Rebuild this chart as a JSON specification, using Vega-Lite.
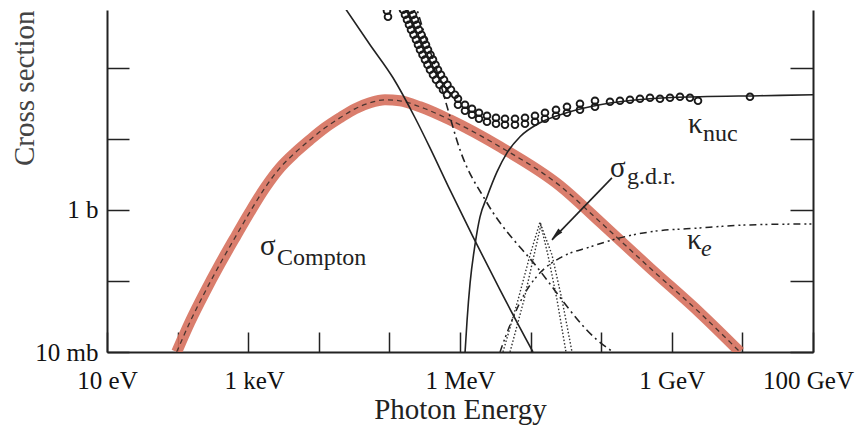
{
  "$schema": "https://vega.github.io/schema/vega-lite/v6.json",
  "width": 706,
  "height": 342,
  "autosize": {"type": "none"},
  "padding": {"left": 107, "top": 10, "right": 42, "bottom": 76},
  "background": "white",
  "config": {"view": {"stroke": null}, "font": "Liberation Serif"},
  "datasets": {
    "compton": [
      {"E": 97, "S": 0.01}, {"E": 149.8, "S": 0.02646}, {"E": 244.4, "S": 0.07002}, {"E": 399, "S": 0.1736},
      {"E": 671.7, "S": 0.4303}, {"E": 1060, "S": 0.937}, {"E": 1729, "S": 2.041}, {"E": 2820, "S": 3.904},
      {"E": 4601, "S": 6.352}, {"E": 7505, "S": 9.681}, {"E": 12240, "S": 14.29}, {"E": 19970, "S": 19.76},
      {"E": 32560, "S": 26.45}, {"E": 53110, "S": 32.14}, {"E": 86630, "S": 35.43}, {"E": 141300, "S": 34.29},
      {"E": 271300, "S": 28.22}, {"E": 721000, "S": 18.5}, {"E": 3.69e6, "S": 7.71},
      {"E": 2.61e7, "S": 2.18}, {"E": 9.62e7, "S": 0.678}, {"E": 4.91e8, "S": 0.152}, {"E": 2.51e9, "S": 0.0354},
      {"E": 9.25e9, "S": 0.01}
    ],
    "photo": [
      {"E": 18700, "S": 968}, {"E": 53100, "S": 211}, {"E": 112500, "S": 72.3}, {"E": 230700, "S": 19.8},
      {"E": 376000, "S": 7.46}, {"E": 721000, "S": 1.91}, {"E": 1.53e6, "S": 0.417}, {"E": 3.69e6, "S": 0.0746},
      {"E": 1.08e7, "S": 0.01}
    ],
    "rayleigh": [
      {"E": 223100, "S": 907}, {"E": 352100, "S": 210.8}, {"E": 487900, "S": 79.7}, {"E": 633400, "S": 32.1},
      {"E": 1.0e6, "S": 7.0}, {"E": 2.41e6, "S": 1.26}, {"E": 1.23e7, "S": 0.157}, {"E": 8.73e7, "S": 0.0148},
      {"E": 1.47e8, "S": 0.01}
    ],
    "knuc": [
      {"E": 1.18e6, "S": 0.01}, {"E": 1.26e6, "S": 0.0282}, {"E": 1.39e6, "S": 0.0938}, {"E": 1.63e6, "S": 0.321},
      {"E": 1.92e6, "S": 0.796}, {"E": 2.41e6, "S": 1.52}, {"E": 3.34e6, "S": 3.43}, {"E": 4.63e6, "S": 6.35},
      {"E": 7.08e6, "S": 10.7}, {"E": 1.36e7, "S": 16.8}, {"E": 3.61e7, "S": 24.0}, {"E": 9.62e7, "S": 30.1},
      {"E": 4.91e8, "S": 36.6}, {"E": 2.51e9, "S": 39.1}, {"E": 1.77e10, "S": 40.4}, {"E": 1e11, "S": 41.7}
    ],
    "ke": [
      {"E": 3.69e6, "S": 0.01}, {"E": 5.11e6, "S": 0.024}, {"E": 8.34e6, "S": 0.0678}, {"E": 1.36e7, "S": 0.13},
      {"E": 2.61e7, "S": 0.211}, {"E": 6.93e7, "S": 0.301}, {"E": 1.85e8, "S": 0.404}, {"E": 4.91e8, "S": 0.49},
      {"E": 2.51e9, "S": 0.557}, {"E": 1.28e10, "S": 0.615}, {"E": 1e11, "S": 0.635}
    ],
    "gdr": [
      {"g": "a", "E": 4.06e6, "S": 0.01}, {"g": "a", "E": 6.63e6, "S": 0.0539}, {"g": "a", "E": 9.82e6, "S": 0.232},
      {"g": "a", "E": 1.36e7, "S": 0.678}, {"g": "a", "E": 1.76e7, "S": 0.232}, {"g": "a", "E": 2.37e7, "S": 0.0539},
      {"g": "a", "E": 3.17e7, "S": 0.01},
      {"g": "b", "E": 5.11e6, "S": 0.01}, {"g": "b", "E": 8.05e6, "S": 0.0539}, {"g": "b", "E": 1.12e7, "S": 0.232},
      {"g": "b", "E": 1.40e7, "S": 0.615}, {"g": "b", "E": 2.01e7, "S": 0.232}, {"g": "b", "E": 2.79e7, "S": 0.0539},
      {"g": "b", "E": 3.86e7, "S": 0.01}
    ],
    "total": [
      {"E": 9.245e4, "S": 635}, {"E": 9.552e4, "S": 522.6},
      {"E": 1.557e5, "S": 656}, {"E": 1.663e5, "S": 557.8}, {"E": 1.775e5, "S": 474}, {"E": 1.895e5, "S": 403.3},
      {"E": 2.023e5, "S": 343}, {"E": 2.195e5, "S": 291.6}, {"E": 2.381e5, "S": 248}, {"E": 2.541e5, "S": 210.8},
      {"E": 2.713e5, "S": 179}, {"E": 2.943e5, "S": 152.5}, {"E": 3.193e5, "S": 130}, {"E": 3.464e5, "S": 110.2},
      {"E": 3.758e5, "S": 93.7}, {"E": 4.144e5, "S": 79.7}, {"E": 4.571e5, "S": 67.8}, {"E": 5.123e5, "S": 57.6},
      {"E": 5.743e5, "S": 49.0}, {"E": 6.544e5, "S": 41.7},
      {"E": 2.023e5, "S": 656}, {"E": 2.159e5, "S": 557.8}, {"E": 2.304e5, "S": 474}, {"E": 2.459e5, "S": 403.3},
      {"E": 2.626e5, "S": 343}, {"E": 2.849e5, "S": 291.6}, {"E": 3.090e5, "S": 248}, {"E": 3.298e5, "S": 210.8},
      {"E": 3.521e5, "S": 179}, {"E": 3.820e5, "S": 152.5}, {"E": 4.144e5, "S": 130}, {"E": 4.497e5, "S": 110.2},
      {"E": 4.879e5, "S": 93.7}, {"E": 5.380e5, "S": 79.7}, {"E": 5.934e5, "S": 67.8}, {"E": 6.651e5, "S": 57.6},
      {"E": 7.453e5, "S": 49.0}, {"E": 8.496e5, "S": 41.7},
      {"E": 9.367e5, "S": 36.59}, {"E": 1.177e6, "S": 30.13}, {"E": 1.479e6, "S": 26.45}, {"E": 1.858e6, "S": 23.24},
      {"E": 2.412e6, "S": 21.08}, {"E": 3.234e6, "S": 19.76}, {"E": 4.338e6, "S": 19.13}, {"E": 6.011e6, "S": 19.13},
      {"E": 8.330e6, "S": 19.76}, {"E": 1.154e7, "S": 21.08}, {"E": 1.599e7, "S": 23.24}, {"E": 2.289e7, "S": 25.61},
      {"E": 3.276e7, "S": 28.22}, {"E": 5.007e7, "S": 31.12}, {"E": 8.166e7, "S": 34.29},
      {"E": 9.367e5, "S": 30.13}, {"E": 1.177e6, "S": 24.80}, {"E": 1.479e6, "S": 21.78}, {"E": 1.858e6, "S": 19.13},
      {"E": 2.412e6, "S": 17.36}, {"E": 3.234e6, "S": 16.27}, {"E": 4.338e6, "S": 15.75}, {"E": 6.011e6, "S": 15.75},
      {"E": 8.330e6, "S": 16.27}, {"E": 1.154e7, "S": 17.36}, {"E": 1.599e7, "S": 19.13}, {"E": 2.289e7, "S": 21.08},
      {"E": 3.276e7, "S": 23.24}, {"E": 5.007e7, "S": 25.61}, {"E": 8.166e7, "S": 28.22},
      {"E": 1.332e8, "S": 33.20}, {"E": 1.845e8, "S": 34.29}, {"E": 2.557e8, "S": 35.43}, {"E": 3.543e8, "S": 36.59},
      {"E": 4.91e8, "S": 37.80}, {"E": 6.801e8, "S": 36.59}, {"E": 9.425e8, "S": 37.80}, {"E": 1.306e9, "S": 39.05},
      {"E": 1.809e9, "S": 37.80}, {"E": 2.35e9, "S": 34.29}, {"E": 1.28e10, "S": 39.05}
    ],
    "arrow": [{"E": 1.42e8, "S": 2.82, "E2": 2.01e7, "S2": 0.378}],
    "arrowhead": [{"E": 2.29e7, "S": 0.445}],
    "labels": [
      {"t": "σ", "E": 1470, "S": 0.232, "r": "main"},
      {"t": "Compton", "E": 2560, "S": 0.168, "r": "sub"},
      {"t": "κ", "E": 1.70e9, "S": 12.2, "r": "main"},
      {"t": "nuc", "E": 2.77e9, "S": 9.37, "r": "sub"},
      {"t": "σ", "E": 1.33e8, "S": 2.92, "r": "main"},
      {"t": "g.d.r.", "E": 2.32e8, "S": 2.32, "r": "sub"},
      {"t": "κ", "E": 1.64e9, "S": 0.282, "r": "main"},
      {"t": "e", "E": 2.59e9, "S": 0.225, "r": "subi"}
    ]
  },
  "layer": [
    {
      "data": {"name": "compton"},
      "mark": {"type": "line", "color": "#d6705d", "strokeWidth": 11, "opacity": 0.9, "interpolate": "monotone", "clip": true, "strokeCap": "butt"},
      "encoding": {
        "x": {
          "field": "E", "type": "quantitative",
          "scale": {"type": "log", "domain": [10, 1e11], "nice": false},
          "axis": {
            "title": "Photon Energy",
            "values": [10, 100, 1000, 10000, 100000, 1000000, 10000000, 100000000, 1000000000, 10000000000, 100000000000],
            "labelExpr": "datum.value == 10 ? '10 eV' : datum.value == 1000 ? '1 keV' : datum.value == 1000000 ? '1 MeV' : datum.value == 1000000000 ? '1 GeV' : datum.value == 100000000000 ? '100 GeV' : ''",
            "labelOffset": {"condition": [{"test": "datum.value == 100000000000", "value": -5}, {"test": "datum.value == 1000", "value": 6}], "value": 0},
            "tickSize": -20, "tickWidth": 1.5, "tickColor": "#222",
            "domainColor": "#222", "domainWidth": 2,
            "grid": false, "labelOverlap": false, "labelFlush": false,
            "labelFont": "Liberation Serif", "labelFontSize": 25, "labelColor": "#111",
            "labelBaseline": "alphabetic", "labelPadding": 56,
            "titleFont": "Liberation Serif", "titleFontSize": 29, "titleFontWeight": "normal", "titleColor": "#222",
            "titleY": 66, "titleBaseline": "alphabetic"
          }
        },
        "y": {
          "field": "S", "type": "quantitative",
          "scale": {"type": "log", "domain": [0.01, 650], "nice": false},
          "axis": {
            "title": "Cross section",
            "values": [0.01, 0.1, 1, 10, 100],
            "labelExpr": "datum.value == 0.01 ? '10 mb' : datum.value == 1 ? '1 b' : ''",
            "tickSize": -22, "tickWidth": 1.5, "tickColor": "#222",
            "domainColor": "#222", "domainWidth": 2,
            "grid": false, "labelOverlap": false, "labelFlush": false,
            "labelFont": "Liberation Serif", "labelFontSize": 25, "labelColor": "#111",
            "labelBaseline": "middle", "labelPadding": 31,
            "titleFont": "Liberation Serif", "titleFontSize": 29, "titleFontWeight": "normal", "titleColor": "#444",
            "titleX": -74, "titleY": 0, "titleAlign": "right", "titleAngle": 270, "titleBaseline": "alphabetic"
          }
        }
      }
    },
    {
      "data": {"name": "compton"},
      "mark": {"type": "line", "color": "#4a3530", "strokeWidth": 1.3, "strokeDash": [5, 4], "interpolate": "monotone", "clip": true},
      "encoding": {
        "x": {"field": "E", "type": "quantitative"},
        "y": {"field": "S", "type": "quantitative", "axis": {"orient": "right", "title": null, "labels": false, "values": [0.01, 0.1, 1, 10, 100], "tickSize": -23, "tickWidth": 1.5, "tickColor": "#222", "domainColor": "#222", "domainWidth": 2, "grid": false}}
      }
    },
    {
      "data": {"name": "photo"},
      "mark": {"type": "line", "color": "#222", "strokeWidth": 1.6, "interpolate": "monotone", "clip": true},
      "encoding": {"x": {"field": "E", "type": "quantitative"}, "y": {"field": "S", "type": "quantitative", "axis": null}}
    },
    {
      "data": {"name": "rayleigh"},
      "mark": {"type": "line", "color": "#222", "strokeWidth": 1.6, "strokeDash": [8, 4, 2, 4], "interpolate": "monotone", "clip": true},
      "encoding": {"x": {"field": "E", "type": "quantitative"}, "y": {"field": "S", "type": "quantitative", "axis": null}}
    },
    {
      "data": {"name": "knuc"},
      "mark": {"type": "line", "color": "#222", "strokeWidth": 1.6, "interpolate": "monotone", "clip": true},
      "encoding": {"x": {"field": "E", "type": "quantitative"}, "y": {"field": "S", "type": "quantitative", "axis": null}}
    },
    {
      "data": {"name": "ke"},
      "mark": {"type": "line", "color": "#222", "strokeWidth": 1.5, "strokeDash": [7, 4, 2, 3, 2, 4], "interpolate": "monotone", "clip": true},
      "encoding": {"x": {"field": "E", "type": "quantitative"}, "y": {"field": "S", "type": "quantitative", "axis": null}}
    },
    {
      "data": {"name": "gdr"},
      "mark": {"type": "line", "color": "#333", "strokeWidth": 1.4, "strokeDash": [1.5, 2], "interpolate": "linear", "clip": true},
      "encoding": {"x": {"field": "E", "type": "quantitative"}, "y": {"field": "S", "type": "quantitative", "axis": null}, "detail": {"field": "g"}}
    },
    {
      "data": {"name": "total"},
      "mark": {"type": "point", "shape": "circle", "filled": false, "color": "#1a1a1a", "size": 45, "strokeWidth": 1.9, "opacity": 1, "clip": true},
      "encoding": {"x": {"field": "E", "type": "quantitative"}, "y": {"field": "S", "type": "quantitative", "axis": null}}
    },
    {
      "data": {"name": "arrow"},
      "mark": {"type": "rule", "color": "#222", "strokeWidth": 1.6},
      "encoding": {
        "x": {"field": "E", "type": "quantitative"}, "y": {"field": "S", "type": "quantitative", "axis": null},
        "x2": {"field": "E2"}, "y2": {"field": "S2"}
      }
    },
    {
      "data": {"name": "arrowhead"},
      "mark": {"type": "point", "shape": "M0,-1L0.45,1L-0.45,1Z", "filled": true, "color": "#222", "size": 150, "angle": 225, "opacity": 1},
      "encoding": {"x": {"field": "E", "type": "quantitative"}, "y": {"field": "S", "type": "quantitative", "axis": null}}
    },
    {
      "data": {"name": "labels"},
      "transform": [{"filter": "datum.r == 'main'"}],
      "mark": {"type": "text", "font": "Liberation Serif", "fontSize": 29, "align": "left", "baseline": "alphabetic", "color": "#222"},
      "encoding": {"x": {"field": "E", "type": "quantitative"}, "y": {"field": "S", "type": "quantitative", "axis": null}, "text": {"field": "t"}}
    },
    {
      "data": {"name": "labels"},
      "transform": [{"filter": "datum.r == 'sub'"}],
      "mark": {"type": "text", "font": "Liberation Serif", "fontSize": 24, "align": "left", "baseline": "alphabetic", "color": "#222"},
      "encoding": {"x": {"field": "E", "type": "quantitative"}, "y": {"field": "S", "type": "quantitative", "axis": null}, "text": {"field": "t"}}
    },
    {
      "data": {"name": "labels"},
      "transform": [{"filter": "datum.r == 'subi'"}],
      "mark": {"type": "text", "font": "Liberation Serif", "fontSize": 24, "fontStyle": "italic", "align": "left", "baseline": "alphabetic", "color": "#222"},
      "encoding": {"x": {"field": "E", "type": "quantitative"}, "y": {"field": "S", "type": "quantitative", "axis": null}, "text": {"field": "t"}}
    }
  ],
  "resolve": {"axis": {"y": "independent"}}
}
